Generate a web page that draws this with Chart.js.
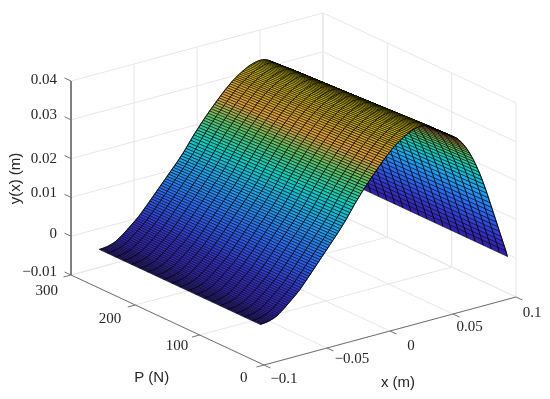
<!DOCTYPE html>
<html>
<head>
<meta charset="utf-8">
<title>y(x) surface</title>
<script src="https://cdn.jsdelivr.net/npm/chart.js@4/dist/chart.umd.min.js"></script>
<style>
  html, body { margin: 0; padding: 0; background: #fff; }
  canvas { display: block; }
</style>
</head>
<body>
<canvas id="chart" width="550" height="399"></canvas>
<script>
// axis ticks
const xTicks = [-0.1, -0.05, 0, 0.05, 0.1];
const pTicks = [0, 100, 200, 300];
const yTicks = [-0.01, 0, 0.01, 0.02, 0.03, 0.04];
const xTickLabels = ['\u22120.1', '\u22120.05', '0', '0.05', '0.1'];
const pTickLabels = ['0', '100', '200', '300'];
const yTickLabels = ['\u22120.01', '0', '0.01', '0.02', '0.03', '0.04'];

// surface grid
const xValues = [
  -0.1, -0.09875, -0.0975, -0.09625, -0.095, -0.09375, -0.0925, -0.09125,
  -0.09, -0.08875, -0.0875, -0.08625, -0.085, -0.08375, -0.0825, -0.08125,
  -0.08, -0.07875, -0.0775, -0.07625, -0.075, -0.07375, -0.0725, -0.07125,
  -0.07, -0.06875, -0.0675, -0.06625, -0.065, -0.06375, -0.0625, -0.06125,
  -0.06, -0.05875, -0.0575, -0.05625, -0.055, -0.05375, -0.0525, -0.05125,
  -0.05, -0.04875, -0.0475, -0.04625, -0.045, -0.04375, -0.0425, -0.04125,
  -0.04, -0.03875, -0.0375, -0.03625, -0.035, -0.03375, -0.0325, -0.03125,
  -0.03, -0.02875, -0.0275, -0.02625, -0.025, -0.02375, -0.0225, -0.02125,
  -0.02, -0.01875, -0.0175, -0.01625, -0.015, -0.01375, -0.0125, -0.01125,
  -0.01, -0.00875, -0.0075, -0.00625, -0.005, -0.00375, -0.0025, -0.00125,
  0, 0.00125, 0.0025, 0.00375, 0.005, 0.00625, 0.0075, 0.00875,
  0.01, 0.01125, 0.0125, 0.01375, 0.015, 0.01625, 0.0175, 0.01875,
  0.02, 0.02125, 0.0225, 0.02375, 0.025, 0.02625, 0.0275, 0.02875,
  0.03, 0.03125, 0.0325, 0.03375, 0.035, 0.03625, 0.0375, 0.03875,
  0.04, 0.04125, 0.0425, 0.04375, 0.045, 0.04625, 0.0475, 0.04875,
  0.05, 0.05125, 0.0525, 0.05375, 0.055, 0.05625, 0.0575, 0.05875,
  0.06, 0.06125, 0.0625, 0.06375, 0.065, 0.06625, 0.0675, 0.06875,
  0.07, 0.07125, 0.0725, 0.07375, 0.075, 0.07625, 0.0775, 0.07875,
  0.08, 0.08125, 0.0825, 0.08375, 0.085, 0.08625, 0.0875, 0.08875,
  0.09, 0.09125, 0.0925, 0.09375, 0.095, 0.09625
];
const pValues = [6, 18.5, 31, 43.5, 56, 68.5, 81, 93.5, 106, 118.5, 131,
  143.5, 156, 168.5, 181, 193.5, 206, 218.5, 231, 243.5, 256];

// y(x) at the lowest P, one value per xValues entry
const yProfile = [
  0, 0.00001, 0.00003, 0.00007, 0.00012, 0.0002, 0.0003, 0.00042, 0.00056, 0.00072,
  0.0009, 0.00116, 0.00144, 0.00174, 0.00206, 0.0024, 0.00275, 0.00311, 0.00347, 0.00383,
  0.0042, 0.00457, 0.00494, 0.00532, 0.00571, 0.0061, 0.00657, 0.00705, 0.00754, 0.00802,
  0.0085, 0.009, 0.0095, 0.01, 0.0105, 0.011, 0.0115, 0.012, 0.0125, 0.013,
  0.0135, 0.014, 0.0145, 0.015, 0.0155, 0.016, 0.0165, 0.017, 0.0175, 0.018,
  0.0185, 0.01905, 0.0196, 0.02015, 0.0207, 0.0213, 0.02192, 0.02254, 0.02316, 0.02378,
  0.0244, 0.02496, 0.02552, 0.02608, 0.02664, 0.0272, 0.02772, 0.02824, 0.02876, 0.02928,
  0.0298, 0.03028, 0.03076, 0.03124, 0.03172, 0.0322, 0.03266, 0.03312, 0.03358, 0.03404,
  0.0345, 0.0349, 0.0353, 0.0357, 0.0361, 0.0365, 0.0368, 0.0371, 0.0374, 0.0377,
  0.038, 0.03826, 0.03852, 0.03875, 0.03898, 0.0392, 0.03937, 0.03952, 0.03965, 0.03977,
  0.03986, 0.03992, 0.03995, 0.03994, 0.03988, 0.03978, 0.03962, 0.03942, 0.03917, 0.03888,
  0.03855, 0.03822, 0.03794, 0.03766, 0.03738, 0.0371, 0.03682, 0.03654, 0.03627, 0.036,
  0.03572, 0.03544, 0.03515, 0.03485, 0.03455, 0.03424, 0.0338, 0.03335, 0.03285, 0.0323,
  0.0317, 0.03105, 0.03035, 0.0296, 0.0288, 0.02795, 0.02705, 0.0261, 0.0251, 0.02405,
  0.02295, 0.0218, 0.0206, 0.01935, 0.01805, 0.01675, 0.0154, 0.01405, 0.0127, 0.01135,
  0.01, 0.00865, 0.0073, 0.00595, 0.0046, 0.00325, 0.0019, 0.0003
];
// how much of that profile is left at each P
const pFactor = [1, 0.997, 0.994, 0.991, 0.988, 0.985, 0.982, 0.979, 0.976, 0.973, 0.97,
  0.967, 0.964, 0.961, 0.958, 0.955, 0.952, 0.949, 0.946, 0.943, 0.94];

// colour map
const colorLevels = [0, 0.005, 0.012, 0.018, 0.024, 0.029, 0.033, 0.037, 0.04];
const colorValues = [
  [48, 30, 165], [52, 50, 205], [42, 105, 245], [30, 160, 240], [15, 205, 190],
  [95, 195, 100], [225, 160, 60], [205, 165, 30], [205, 190, 10]
];

// box corners on the page
const FRONT = { x: 264, y: 365 };
const RIGHT = { x: 516, y: 297 };
const LEFT = { x: 71, y: 275 };
const WALL = 194;

function project(x, p, y) {
  const u = (x + 0.1) / 0.2;
  const w = p / 300;
  const h = (y + 0.01) / 0.05;
  return {
    x: FRONT.x + u * (RIGHT.x - FRONT.x) + w * (LEFT.x - FRONT.x),
    y: FRONT.y + u * (RIGHT.y - FRONT.y) + w * (LEFT.y - FRONT.y) - h * WALL
  };
}

function colorFor(y) {
  let k = 0;
  while (k < colorLevels.length - 2 && y > colorLevels[k + 1]) k++;
  const t = Math.min(1, Math.max(0, (y - colorLevels[k]) / (colorLevels[k + 1] - colorLevels[k])));
  const c = colorValues[k].map((v, n) => Math.round(v + t * (colorValues[k + 1][n] - v)));
  return `rgb(${c[0]},${c[1]},${c[2]})`;
}

function lineSet(points, color, width) {
  return { data: points, borderColor: color, borderWidth: width, pointRadius: 0, fill: false, tension: 0 };
}

// painted back to front, then reversed because Chart.js draws the first dataset last
const layers = [];
const GRID = '#e6e6e6';
const AXIS = '#707070';

xTicks.forEach(x => {
  layers.push(lineSet([project(x, 0, -0.01), project(x, 300, -0.01), project(x, 300, 0.04)], GRID, 1));
});
pTicks.forEach(p => {
  layers.push(lineSet([project(-0.1, p, -0.01), project(0.1, p, -0.01), project(0.1, p, 0.04)], GRID, 1));
});
yTicks.forEach(y => {
  layers.push(lineSet([project(-0.1, 300, y), project(0.1, 300, y), project(0.1, 0, y)], GRID, 1));
});

layers.push(lineSet([project(-0.1, 300, 0.04), project(-0.1, 300, -0.01), project(-0.1, 0, -0.01), project(0.1, 0, -0.01)], AXIS, 1));

yTicks.forEach(y => {
  layers.push(lineSet([project(-0.1, 300, y), project(-0.1, 310, y)], AXIS, 1));
});
pTicks.forEach(p => {
  layers.push(lineSet([project(-0.1, p, -0.01), project(-0.106, p, -0.01)], AXIS, 1));
});
xTicks.forEach(x => {
  layers.push(lineSet([project(x, 0, -0.01), project(x, -10, -0.01)], AXIS, 1));
});

// one strip per x step, far side first
for (let i = xValues.length - 2; i >= 0; i--) {
  const lastP = pValues.length - 1;
  // walk round the strip: up the i side, back down the i+1 side
  const near = pValues.map((p, j) => project(xValues[i], p, yProfile[i] * pFactor[j]));
  const far = pValues.map((p, j) => project(xValues[i + 1], p, yProfile[i + 1] * pFactor[j])).reverse();
  const outline = near.concat(far, [near[0]]);
  const shade = colorFor((yProfile[i] + yProfile[i + 1]) / 2);
  layers.push({
    data: outline, backgroundColor: shade, borderColor: 'rgba(0,0,0,0.9)', borderWidth: 0.65,
    pointRadius: 0, fill: 'shape', tension: 0
  });
  // constant P lines crossing this strip
  const rungs = [];
  pValues.forEach((p, j) => {
    rungs.push(near[j], far[lastP - j], { x: null, y: null });
  });
  layers.push(lineSet(rungs, 'rgba(0,0,0,0.9)', 0.9));
}

const axisText = {
  id: 'axisText',
  afterDraw(chart) {
    const { ctx, scales } = chart;
    const put = (text, pos, dx, dy, font, align) => {
      ctx.font = font;
      ctx.fillStyle = '#262626';
      ctx.textAlign = align || 'center';
      ctx.textBaseline = 'middle';
      ctx.fillText(text, scales.x.getPixelForValue(pos.x) + dx, scales.y.getPixelForValue(pos.y) + dy);
    };
    const serif = '15px "Liberation Serif"';
    const sans = '15px "Liberation Sans"';
    const xNudge = [[20, 14.5], [25, 11], [21, 14.7], [16.7, 12.7], [16, 15.7]];
    const pNudge = [[-20.3, 12.7], [-22.7, 11], [-25.3, 14], [-24.3, 15.7]];
    const yNudge = [-3, -2, -4, 0, -5, -1];
    xTicks.forEach((x, n) => put(xTickLabels[n], project(x, 0, -0.01), xNudge[n][0], xNudge[n][1], serif));
    pTicks.forEach((p, n) => put(pTickLabels[n], project(-0.1, p, -0.01), pNudge[n][0], pNudge[n][1], serif));
    yTicks.forEach((y, n) => put(yTickLabels[n], project(-0.1, 300, y), -14, yNudge[n], serif, 'right'));
    put('P (N)', project(-0.1, 100, -0.01), -48, 43, sans);
    put('x (m)', project(0, 0, -0.01), 8, 52, sans);
    ctx.save();
    ctx.translate(scales.x.getPixelForValue(16), scales.y.getPixelForValue(178.5));
    ctx.rotate(-Math.PI / 2);
    ctx.font = sans;
    ctx.fillStyle = '#262626';
    ctx.textAlign = 'center';
    ctx.textBaseline = 'middle';
    ctx.fillText('y(x) (m)', 0, 0);
    ctx.restore();
  }
};

new Chart(document.getElementById('chart'), {
  type: 'line',
  data: { datasets: layers.reverse() },
  options: {
    responsive: false,
    animation: false,
    events: [],
    layout: { padding: 0 },
    plugins: { legend: { display: false }, tooltip: { enabled: false } },
    scales: {
      x: { type: 'linear', min: 0, max: 550, display: false },
      y: { type: 'linear', min: 0, max: 399, reverse: true, display: false }
    }
  },
  plugins: [axisText]
});
</script>
</body>
</html>
